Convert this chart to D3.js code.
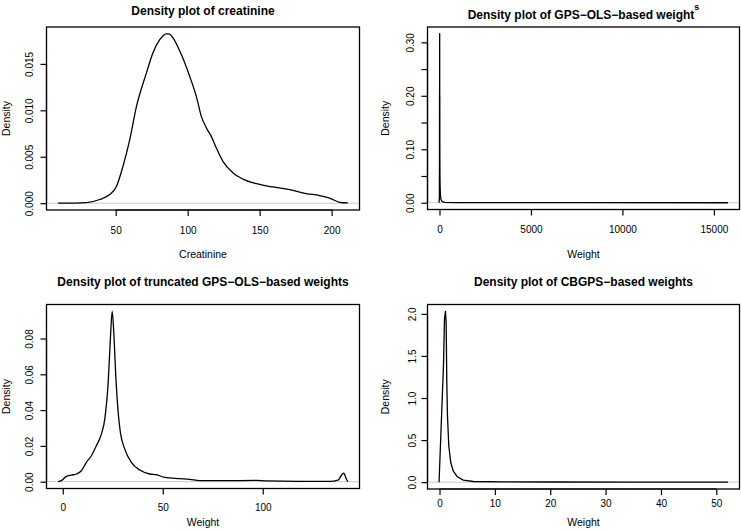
<!DOCTYPE html>
<html>
<head>
<meta charset="utf-8">
<script src="https://cdn.jsdelivr.net/npm/d3@7"></script>
<style>
  html, body { margin: 0; padding: 0; background: #fff; }
  svg { display: block; }
  text { font-family: "Liberation Sans", Arial, Helvetica, sans-serif; fill: #000; }
</style>
</head>
<body>
<svg id="chart" width="741" height="530"></svg>
<script>
// ---- Data ----
const creatinineX = [10, 29.6, 38.9, 45.8, 50.5, 55.1, 59.7, 64.4, 71.3, 75.9, 80.6, 85.2, 87.5, 89.8, 95.6, 101.4, 106, 109.5, 113, 116.4, 119.9, 124.5, 131.5, 138.4, 147.7, 159.3, 170.8, 182.4, 191.7, 198.6, 205.6, 211.3];
const creatinineY = [0, 0.00007, 0.0004, 0.00093, 0.0018, 0.004, 0.0068, 0.0104, 0.014, 0.0162, 0.0176, 0.01824, 0.0182, 0.0178, 0.016, 0.01366, 0.0115, 0.00935, 0.0081, 0.0072, 0.00595, 0.0045, 0.00326, 0.0026, 0.0021, 0.00175, 0.00147, 0.00104, 0.00082, 0.00054, 0.0001, 0.00003];

const gpsX = [-24, -5, 0, 3, 5, 8, 10, 13, 16, 20, 25, 35, 50, 80, 150, 300, 1000, 3000, 8000, 15770];
const gpsY = [0, 0.01, 0.08, 0.205, 0.09, 0.30, 0.316, 0.1, 0.2, 0.08, 0.05, 0.03, 0.015, 0.006, 0.002, 0.0006, 0.0002, 0.0001, 0.00005, 0];

const truncX = [-2.35, -0.7, 1.8, 4.3, 6.8, 9.3, 11.8, 14.3, 16.8, 19.3, 21, 22.7, 23.8, 24.7, 25.5, 26.5, 27.7, 28.8, 31, 34.3, 38.5, 43.5, 46.8, 51, 58.5, 63.5, 68.5, 85, 96.8, 101.8, 118.5, 133.5, 137.7, 139.8, 140.5, 141.8, 142.6];
const truncY = [0, 0.0006, 0.003, 0.0037, 0.0043, 0.0061, 0.0108, 0.0145, 0.0201, 0.0266, 0.035, 0.0555, 0.0797, 0.0952, 0.0834, 0.0592, 0.0387, 0.0276, 0.0182, 0.0108, 0.0065, 0.0043, 0.0039, 0.0024, 0.0017, 0.0013, 0.0006, 0.0006, 0.0007, 0.0004, 0.0002, 0.0002, 0.0009, 0.0043, 0.0048, 0.0015, 0];

const cbgpsX = [-0.08, 0.42, 0.72, 0.9, 1.08, 1.2, 1.32, 1.44, 1.68, 2.04, 2.5, 3.23, 4.3, 6.1, 11.5, 20, 35, 52.1];
const cbgpsY = [0, 0.87, 1.38, 1.94, 2.03, 1.90, 1.19, 0.79, 0.43, 0.23, 0.13, 0.064, 0.024, 0.008, 0.004, 0.002, 0.001, 0];

// tick values and labels
const creatXTicks = [50, 100, 150, 200];
const creatYTicks = [0, 0.005, 0.010, 0.015];
const creatYLabels = ["0.000", "0.005", "0.010", "0.015"];

const gpsXTicks = [0, 5000, 10000, 15000];
const gpsYTicks = [0, 0.05, 0.10, 0.15, 0.20, 0.25, 0.30];
const gpsYLabels = ["0.00", "", "0.10", "", "0.20", "", "0.30"];

const truncXTicks = [0, 50, 100];
const truncYTicks = [0, 0.02, 0.04, 0.06, 0.08];
const truncYLabels = ["0.00", "0.02", "0.04", "0.06", "0.08"];

const cbgpsXTicks = [0, 10, 20, 30, 40, 50];
const cbgpsYTicks = [0, 0.5, 1.0, 1.5, 2.0];
const cbgpsYLabels = ["0.0", "0.5", "1.0", "1.5", "2.0"];

const titles = ["Density plot of creatinine", "Density plot of GPS\u2212OLS\u2212based weight", "Density plot of truncated GPS\u2212OLS\u2212based weights", "Density plot of CBGPS\u2212based weights"];
const xTitles = ["Creatinine", "Weight", "Weight", "Weight"];
const yTitle = "Density";

// ---- Layout ----
const panels = [
  { xs: creatinineX, ys: creatinineY, xt: creatXTicks, yt: creatYTicks, yl: creatYLabels, smooth: true,
    box: {l: 46.5, r: 359.5, t: 27, b: 210}, titleY: 15, sup: null, tickLabY: 233.5, xTitleY: 257.5, yTitleX: 10, yLabOff: 13.5 },
  { xs: gpsX, ys: gpsY, xt: gpsXTicks, yt: gpsYTicks, yl: gpsYLabels, smooth: false,
    box: {l: 427.5, r: 739.5, t: 27, b: 209.5}, titleY: 19, sup: "s", tickLabY: 232.5, xTitleY: 258, yTitleX: 388.5, yLabOff: 14 },
  { xs: truncX, ys: truncY, xt: truncXTicks, yt: truncYTicks, yl: truncYLabels, smooth: true,
    box: {l: 46.5, r: 359.5, t: 304.5, b: 488.5}, titleY: 286, sup: null, tickLabY: 510.5, xTitleY: 526, yTitleX: 10, yLabOff: 13.5 },
  { xs: cbgpsX, ys: cbgpsY, xt: cbgpsXTicks, yt: cbgpsYTicks, yl: cbgpsYLabels, smooth: false,
    box: {l: 427.5, r: 739.5, t: 304.5, b: 489}, titleY: 286, sup: null, tickLabY: 507, xTitleY: 526, yTitleX: 388.5, yLabOff: 11.5 }
];

const svg = d3.select("#chart");
svg.append("rect").attr("width", 741).attr("height", 530).attr("fill", "#fff");

function pad(ext) {
  const r = ext[1] - ext[0];
  return [ext[0] - 0.04 * r, ext[1] + 0.04 * r];
}

panels.forEach((p, i) => {
  const g = svg.append("g");
  const xDom = pad(d3.extent(p.xs));
  const yDom = pad([0, d3.max(p.ys)]);
  const x = d3.scaleLinear().domain(xDom).range([p.box.l, p.box.r]);
  const y = d3.scaleLinear().domain(yDom).range([p.box.b, p.box.t]);
  const pts = p.xs.map((v, k) => [v, p.ys[k]]);

  // zero line
  g.append("line")
    .attr("x1", p.box.l).attr("x2", p.box.r)
    .attr("y1", y(0)).attr("y2", y(0))
    .attr("stroke", "#c8c8c8").attr("stroke-width", 1);

  // density curve
  const lineGen = d3.line().x(d => x(d[0])).y(d => y(d[1]))
    .curve(p.smooth ? d3.curveMonotoneX : d3.curveLinear);
  g.append("path")
    .attr("d", lineGen(pts))
    .attr("fill", "none").attr("stroke", "#000").attr("stroke-width", 1.3)
    .attr("stroke-linejoin", "round");

  // box
  g.append("rect")
    .attr("x", p.box.l).attr("y", p.box.t)
    .attr("width", p.box.r - p.box.l).attr("height", p.box.b - p.box.t)
    .attr("fill", "none").attr("stroke", "#000").attr("stroke-width", 1.3);

  // x axis
  const xa = d3.axisBottom(x).tickValues(p.xt).tickSize(6).tickSizeOuter(0).tickFormat(d3.format("d"));
  const gx = g.append("g").attr("transform", `translate(0,${p.box.b})`).call(xa);
  gx.select(".domain").attr("d", `M${x(p.xt[0])},0H${x(p.xt[p.xt.length - 1])}`).attr("stroke-width", 1.2);
  gx.selectAll(".tick line").attr("stroke-width", 1.2);
  gx.selectAll(".tick text").attr("y", null).attr("dy", null)
    .attr("transform", `translate(0,${p.tickLabY - p.box.b})`)
    .attr("font-size", 10).attr("font-family", null);

  // y axis
  const ya = d3.axisLeft(y).tickValues(p.yt).tickSize(6).tickSizeOuter(0)
    .tickFormat((d, k) => p.yl[k]);
  const gy = g.append("g").attr("transform", `translate(${p.box.l},0)`).call(ya);
  gy.select(".domain").attr("d", `M0,${y(p.yt[0])}V${y(p.yt[p.yt.length - 1])}`).attr("stroke-width", 1.2);
  gy.selectAll(".tick line").attr("stroke-width", 1.2);
  gy.selectAll(".tick text").attr("x", null).attr("dy", null)
    .attr("transform", `translate(${-p.yLabOff},0) rotate(-90)`)
    .attr("text-anchor", "middle").attr("font-size", 10).attr("font-family", null);
  gy.attr("font-family", null); gx.attr("font-family", null);

  // title
  const cx = (p.box.l + p.box.r) / 2;
  const t = g.append("text").attr("x", cx).attr("y", p.titleY)
    .attr("text-anchor", "middle").attr("font-size", 12).attr("font-weight", "bold")
    .text(titles[i]);
  if (p.sup) {
    t.append("tspan").attr("dy", -9).attr("font-size", 9).text(p.sup);
  }

  // x title
  g.append("text").attr("x", cx).attr("y", p.xTitleY)
    .attr("text-anchor", "middle").attr("font-size", 10.5).text(xTitles[i]);

  // y title
  const cy = (p.box.t + p.box.b) / 2;
  g.append("text").attr("transform", `translate(${p.yTitleX},${cy}) rotate(-90)`)
    .attr("text-anchor", "middle").attr("font-size", 10.5).text(yTitle);
});
</script>
</body>
</html>
